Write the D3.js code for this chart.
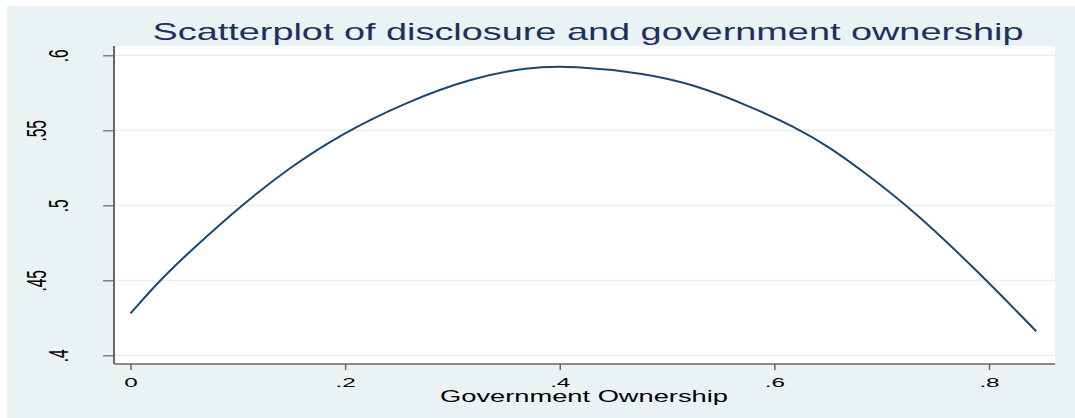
<html>
<head>
<style>
body { margin: 0; background: #fff; }
svg { font-family: 'Liberation Sans', Arial, sans-serif; display: block; }
</style>
</head>
<body>
<svg></svg>
<script src="https://d3js.org/d3.v7.min.js"></script>
<script>

const fullWidth = 1075;
const fullHeight = 418;

const titleText = 'Scatterplot of disclosure and government ownership';
const xTitle = 'Government Ownership';

// government ownership (x) and fitted disclosure (y)
const ownership = [0, 0.03, 0.055, 0.105, 0.148, 0.195, 0.257, 0.319, 0.369, 0.412,
    0.48, 0.527, 0.574, 0.62, 0.651, 0.682, 0.729, 0.791, 0.844];
const disclosure = [0.428, 0.452, 0.469, 0.501, 0.525, 0.547, 0.569, 0.585, 0.592, 0.593,
    0.588, 0.580, 0.567, 0.552, 0.539, 0.523, 0.497, 0.455, 0.416];

const xTicks = [0, 0.2, 0.4, 0.6, 0.8];
const yTicks = [0.4, 0.45, 0.5, 0.55, 0.6];

const bgColor = '#eaf2f3';
const lineColor = '#1a476f';
const axisColor = '#666';

const plot = {left: 114, right: 1055, top: 46, bottom: 364};

const svg = d3.select('svg')
    .attr('width', fullWidth)
    .attr('height', fullHeight);

svg.append('rect')
    .attr('x', 7).attr('y', 6)
    .attr('width', fullWidth - 7).attr('height', fullHeight - 6)
    .attr('fill', bgColor);

svg.append('rect')
    .attr('x', plot.left).attr('y', plot.top)
    .attr('width', plot.right - plot.left).attr('height', plot.bottom - plot.top)
    .attr('fill', '#fff');

const x = d3.scaleLinear().domain([0, 0.8]).range([130.5, 989]);
const y = d3.scaleLinear().domain([0.4, 0.6]).range([355.3, 55.3]);

// stata style: no leading zero
const fmt = d => d === 0 ? '0' : d3.format('~g')(d).replace(/^0/, '');

// grid
svg.append('g')
    .selectAll('line')
    .data(yTicks)
    .join('line')
    .attr('x1', plot.left).attr('x2', plot.right)
    .attr('y1', d => y(d)).attr('y2', d => y(d))
    .attr('stroke', '#e6eef0')
    .attr('stroke-width', 1.2);

// x axis
const xAxis = svg.append('g')
    .attr('transform', `translate(0,${plot.bottom})`)
    .call(d3.axisBottom(x).tickValues(xTicks).tickFormat(fmt).tickSize(6).tickSizeOuter(0));
xAxis.select('.domain').remove();
xAxis.selectAll('line').attr('stroke', axisColor).attr('stroke-width', 1.5);
xAxis.selectAll('text')
    .attr('y', 23).attr('dy', null)
    .attr('fill', '#000')
    .style('font-size', '13.5px')
    .attr('transform', 'scale(1.8,1)');

// y axis
const yAxis = svg.append('g')
    .attr('transform', `translate(${plot.left},0)`)
    .call(d3.axisLeft(y).tickValues(yTicks).tickFormat(fmt).tickSize(11).tickSizeOuter(0));
yAxis.select('.domain').remove();
yAxis.selectAll('line').attr('stroke', axisColor).attr('stroke-width', 1.2);
yAxis.selectAll('text')
    .attr('x', null).attr('dy', null)
    .attr('text-anchor', 'middle')
    .attr('fill', '#000')
    .style('font-size', '15.5px')
    .attr('transform', (d, i) => `translate(${i % 2 ? -68 : -46},0) scale(1.75,1) rotate(-90)`);

// axis lines
svg.append('line')
    .attr('x1', plot.left).attr('x2', plot.left)
    .attr('y1', plot.top).attr('y2', plot.bottom)
    .attr('stroke', axisColor).attr('stroke-width', 2);
svg.append('line')
    .attr('x1', plot.left).attr('x2', plot.right)
    .attr('y1', plot.bottom).attr('y2', plot.bottom)
    .attr('stroke', axisColor).attr('stroke-width', 1.3);

// fitted curve
const points = ownership.map((d, i) => [d, disclosure[i]]);
const line = d3.line()
    .x(d => x(d[0]))
    .y(d => y(d[1]))
    .curve(d3.curveBasis);

svg.append('path')
    .datum(points)
    .attr('d', line)
    .attr('fill', 'none')
    .attr('stroke', lineColor)
    .attr('stroke-width', 2);

// titles
svg.append('text')
    .attr('x', 588).attr('y', 40)
    .attr('text-anchor', 'middle')
    .attr('textLength', 871)
    .attr('lengthAdjust', 'spacingAndGlyphs')
    .attr('fill', '#1e2f60')
    .style('font-size', '24px')
    .text(titleText);

svg.append('text')
    .attr('x', 584).attr('y', 401.5)
    .attr('text-anchor', 'middle')
    .attr('textLength', 288)
    .attr('lengthAdjust', 'spacingAndGlyphs')
    .attr('fill', '#000')
    .style('font-size', '17px')
    .text(xTitle);

</script>
</body>
</html>
